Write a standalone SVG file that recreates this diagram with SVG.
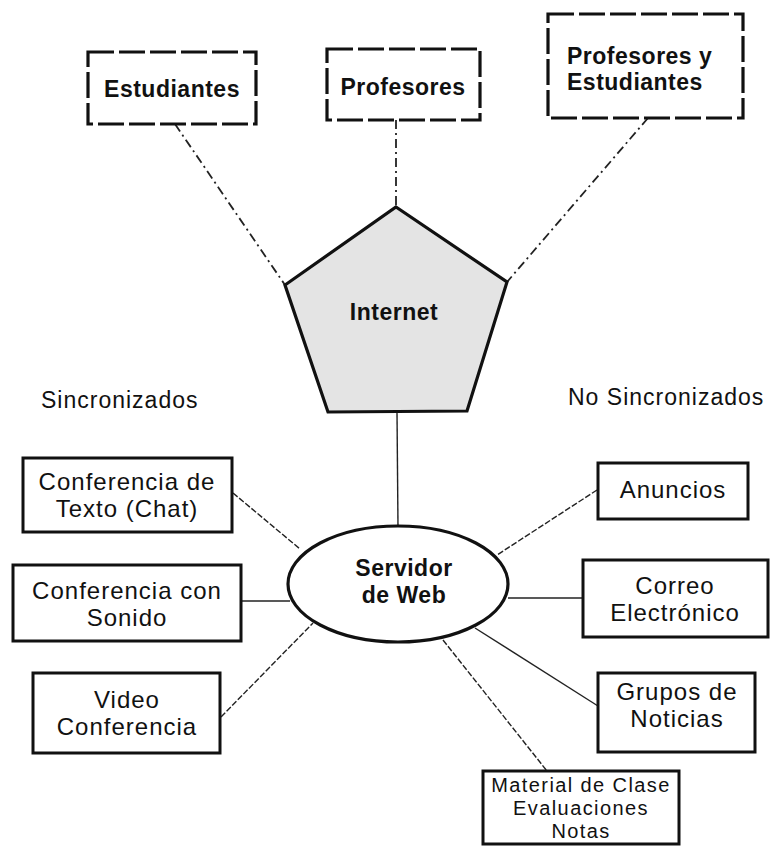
<svg xmlns="http://www.w3.org/2000/svg" width="777" height="846" viewBox="0 0 777 846">
<style>
  .box { fill: #ffffff; stroke: #111; stroke-width: 3; }
  .dbox { fill: #ffffff; stroke: #111; stroke-width: 3.2; stroke-dasharray: 26 5; }
  .bt { font-family: "Liberation Sans", Arial, sans-serif; font-weight: bold; font-size: 23px; letter-spacing: 0.5px; fill: #111; }
  .rt { font-family: "Liberation Sans", Arial, sans-serif; font-size: 24px; letter-spacing: 1px; fill: #111; text-anchor: middle; }
  .st { font-family: "Liberation Sans", Arial, sans-serif; font-size: 20px; letter-spacing: 1.4px; fill: #111; text-anchor: middle; }
  .lbl { font-family: "Liberation Sans", Arial, sans-serif; font-size: 23px; letter-spacing: 1px; fill: #111; }
  .c { stroke: #222; stroke-width: 1.4; fill: none; }
  .cd { stroke: #222; stroke-width: 1.4; fill: none; stroke-dasharray: 6 2; }
  .ct { stroke: #222; stroke-width: 1.8; fill: none; stroke-dasharray: 9 4 2 4; }
</style>

<g id="connectors">
  <line class="ct" x1="175" y1="124" x2="285" y2="285"/>
  <line class="ct" x1="396" y1="120" x2="396" y2="207"/>
  <line class="ct" x1="648" y1="118" x2="507" y2="282"/>
  <line class="c" x1="397" y1="412" x2="398" y2="527"/>
  <line class="cd" x1="233" y1="493" x2="300" y2="549"/>
  <line class="c" x1="241" y1="601" x2="290" y2="601"/>
  <line class="cd" x1="221" y1="717" x2="313" y2="623"/>
  <line class="cd" x1="597" y1="490" x2="497" y2="555"/>
  <line class="c" x1="508" y1="598" x2="583" y2="598"/>
  <line class="c" x1="475" y1="628" x2="598" y2="706"/>
  <line class="cd" x1="443" y1="640" x2="547" y2="771"/>
</g>

<g id="estudiantes">
  <rect class="dbox" x="88" y="52" width="168" height="72"/>
  <text class="bt" x="172" y="97" text-anchor="middle">Estudiantes</text>
</g>
<g id="profesores">
  <rect class="dbox" x="327" y="49" width="153" height="71"/>
  <text class="bt" x="403" y="95" text-anchor="middle">Profesores</text>
</g>
<g id="profesores-estudiantes">
  <rect class="dbox" x="548" y="14" width="195" height="104"/>
  <text class="bt" x="567" y="64">Profesores y</text>
  <text class="bt" x="567" y="90">Estudiantes</text>
</g>

<g id="internet">
  <polygon points="396,207 507,282 467,411 328,412 285,285" fill="#e4e4e4" stroke="#111" stroke-width="3.2" stroke-linejoin="miter"/>
  <text class="bt" x="394" y="320" text-anchor="middle" font-size="24">Internet</text>
</g>

<text id="sincronizados" class="lbl" x="41" y="408">Sincronizados</text>
<text id="no-sincronizados" class="lbl" x="568" y="405">No Sincronizados</text>

<g id="servidor">
  <ellipse cx="398" cy="584" rx="110" ry="58" fill="#ffffff" stroke="#111" stroke-width="3.2"/>
  <text class="bt" x="404" y="576" text-anchor="middle" font-size="24">Servidor</text>
  <text class="bt" x="404" y="603" text-anchor="middle" font-size="24">de Web</text>
</g>

<g id="chat">
  <rect class="box" x="23" y="458" width="209" height="74"/>
  <text class="rt" x="127" y="490">Conferencia de</text>
  <text class="rt" x="127" y="517">Texto (Chat)</text>
</g>
<g id="sonido">
  <rect class="box" x="13" y="565" width="228" height="76"/>
  <text class="rt" x="127" y="599">Conferencia con</text>
  <text class="rt" x="127" y="626">Sonido</text>
</g>
<g id="video">
  <rect class="box" x="33" y="673" width="187" height="80"/>
  <text class="rt" x="127" y="708">Video</text>
  <text class="rt" x="127" y="735">Conferencia</text>
</g>

<g id="anuncios">
  <rect class="box" x="598" y="463" width="150" height="56"/>
  <text class="rt" x="673" y="498">Anuncios</text>
</g>
<g id="correo">
  <rect class="box" x="583" y="560" width="185" height="77"/>
  <text class="rt" x="675" y="594">Correo</text>
  <text class="rt" x="675" y="621">Electrónico</text>
</g>
<g id="grupos">
  <rect class="box" x="598" y="673" width="157" height="79"/>
  <text class="rt" x="677" y="700">Grupos de</text>
  <text class="rt" x="677" y="727">Noticias</text>
</g>
<g id="material">
  <rect class="box" x="483" y="771" width="196" height="73"/>
  <text class="st" x="581" y="792">Material de Clase</text>
  <text class="st" x="581" y="815">Evaluaciones</text>
  <text class="st" x="581" y="838">Notas</text>
</g>
</svg>
